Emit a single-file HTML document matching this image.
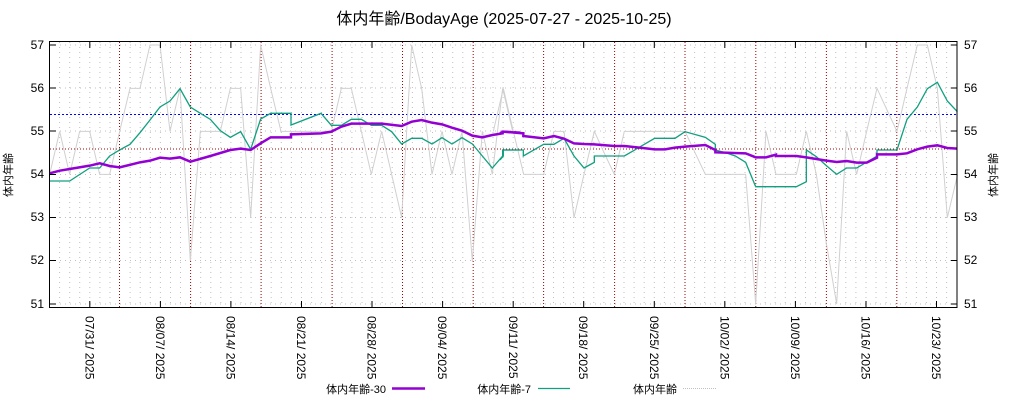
<!DOCTYPE html>
<html><head><meta charset="utf-8"><style>
html,body{margin:0;padding:0;background:#fff;}
svg{display:block;font-family:"Liberation Sans","Noto Sans CJK JP",sans-serif;}
</style></head><body>
<svg width="1024" height="400" viewBox="0 0 1024 400" xmlns="http://www.w3.org/2000/svg">
<rect width="1024" height="400" fill="#fff"/>
<text x="504" y="24" font-size="16" text-anchor="middle" fill="#000">体内年齢/BodayAge (2025-07-27 - 2025-10-25)</text>
<g stroke="#c0c0c0" stroke-width="1" stroke-dasharray="1,4">
<path d="M59.6,42V307M69.7,42V307M79.7,42V307M89.8,42V307M99.9,42V307M110,42V307M130.1,42V307M140.2,42V307M150.3,42V307M160.4,42V307M170.5,42V307M180.5,42V307M200.7,42V307M210.8,42V307M220.8,42V307M230.9,42V307M241,42V307M251.1,42V307M271.2,42V307M281.3,42V307M291.4,42V307M301.5,42V307M311.6,42V307M321.6,42V307M341.8,42V307M351.9,42V307M362,42V307M372,42V307M382.1,42V307M392.2,42V307M412.4,42V307M422.4,42V307M432.5,42V307M442.6,42V307M452.7,42V307M462.8,42V307M482.9,42V307M493,42V307M503.1,42V307M513.2,42V307M523.2,42V307M533.3,42V307M553.5,42V307M563.6,42V307M573.6,42V307M583.7,42V307M593.8,42V307M603.9,42V307M624,42V307M634.1,42V307M644.2,42V307M654.3,42V307M664.4,42V307M674.4,42V307M694.6,42V307M704.7,42V307M714.8,42V307M724.8,42V307M734.9,42V307M745,42V307M765.2,42V307M775.2,42V307M785.3,42V307M795.4,42V307M805.5,42V307M815.6,42V307M835.7,42V307M845.8,42V307M855.9,42V307M866,42V307M876,42V307M886.1,42V307M906.3,42V307M916.4,42V307M926.4,42V307M936.5,42V307M946.6,42V307"/>
<path d="M50,45H957M50,88H957M50,131H957M50,174.5H957M50,217.5H957M50,260.5H957M50,304H957"/>
</g>
<g stroke="#a00000" stroke-width="1" stroke-dasharray="1,2">
<path d="M119.5,42V307M190.6,42V307M261.1,42V307M332.1,42V307M402.5,42V307M473.2,42V307M543.6,42V307M614.6,42V307M685,42V307M755.8,42V307M826.4,42V307M896.8,42V307"/>
<path d="M50,149H957"/>
</g>
<path d="M50,114.5H957" stroke="#0000ff" stroke-width="1" stroke-dasharray="2,2"/>
<g transform="translate(40,30) scale(0.33333)" fill="none">
<polyline vector-effect="non-scaling-stroke" stroke="#d0d0d0" stroke-width="1" points="29,433 59,304 89,433 119,304 149,304 179,433 209,433 239,304 270,175 300,175 330,45 360,45 390,304 420,175 451,693 481,304 511,304 541,304 571,175 602,175 632,563 662,45 692,175 723,304 753,304 783,304 813,304 843,304 874,304 904,175 934,175 964,304 994,433 1025,304 1055,433 1085,563 1115,45 1145,175 1176,433 1206,304 1236,433 1266,304 1297,693 1327,304 1357,433 1388,175 1418,304"/>
<polyline vector-effect="non-scaling-stroke" stroke="#10a080" stroke-width="1.3" points="29,453 89,453 149,414 179,414 209,378 239,360 270,343 300,308 330,270 360,231 390,213 420,176 451,231 481,250 511,268 541,302 571,322 602,305 632,358 662,267 692,250 753,250 753,285 843,250 874,286 904,286 934,268 964,268 994,286 1025,286 1055,305 1085,342 1115,325 1145,325 1176,342 1206,323 1236,342 1266,323 1297,342 1327,378 1357,414 1388,378 1388,360 1440,360"/>
<polyline vector-effect="non-scaling-stroke" stroke="#9400d3" stroke-width="2.5" points="29,430 59,422 89,417 149,407 179,400 209,408 239,412 300,397 330,392 360,383 390,386 420,382 451,395 511,378 571,360 602,356 632,360 662,340 692,322 753,322 753,313 843,310 874,305 904,290 934,281 1025,281 1085,288 1115,275 1145,270 1176,278 1206,283 1236,293 1266,302 1297,317 1327,322 1357,315 1388,310 1388,305 1440,308"/>
</g>
<g transform="translate(500,30) scale(0.33333)" fill="none">
<polyline vector-effect="non-scaling-stroke" stroke="#d0d0d0" stroke-width="1" points="-20,304 10,175 40,304 71,433 101,433 131,433 162,304 192,304 222,563 252,433 283,304 313,370 343,433 373,304 555,304 586,370 616,433 737,433 767,822 798,304 828,433 889,433 919,304 949,433 979,640 1010,822 1040,304 1070,433 1100,304 1131,175 1161,240 1191,304 1221,175 1252,45 1282,45 1312,175 1342,563 1373,433"/>
<polyline vector-effect="non-scaling-stroke" stroke="#10a080" stroke-width="1.3" points="0,390 10,378 10,360 70,360 70,378 131,343 162,343 192,325 222,378 252,414 283,397 283,378 373,378 464,325 525,325 555,305 616,322 646,343 646,360 676,368 706,378 737,397 767,470 889,470 919,455 919,360 949,380 979,407 1010,433 1040,414 1070,414 1131,378 1131,360 1191,360 1221,268 1252,231 1282,176 1312,157 1342,213 1372,245"/>
<polyline vector-effect="non-scaling-stroke" stroke="#9400d3" stroke-width="2.5" points="0,310 10,305 70,310 70,318 131,325 162,318 192,326 222,340 252,342 283,343 343,348 373,348 464,358 495,358 525,353 555,350 616,345 646,360 646,367 737,370 767,382 798,382 828,374 828,378 889,378 919,382 979,392 1010,396 1040,393 1070,398 1100,398 1131,383 1131,373 1191,373 1221,370 1252,358 1282,350 1312,346 1342,354 1372,356"/>
</g>
<rect x="49.5" y="41.5" width="907.5" height="266" fill="none" stroke="#000" stroke-width="1"/>
<g stroke="#000" stroke-width="1">
<path d="M50,45h6M50,88h6M50,131h6M50,174.5h6M50,217.5h6M50,260.5h6M50,304h6M957,45h-6M957,88h-6M957,131h-6M957,174.5h-6M957,217.5h-6M957,260.5h-6M957,304h-6"/>
<path d="M89.8,307v-6M160.4,307v-6M230.9,307v-6M301.5,307v-6M372,307v-6M442.6,307v-6M513.2,307v-6M583.7,307v-6M654.3,307v-6M724.8,307v-6M795.4,307v-6M866,307v-6M936.5,307v-6M89.8,42v6M160.4,42v6M230.9,42v6M301.5,42v6M372,42v6M442.6,42v6M513.2,42v6M583.7,42v6M654.3,42v6M724.8,42v6M795.4,42v6M866,42v6M936.5,42v6"/>
</g>
<g font-size="12" fill="#000">
<g text-anchor="end"><text x="44" y="49">57</text><text x="44" y="92">56</text><text x="44" y="135">55</text><text x="44" y="178">54</text><text x="44" y="221">53</text><text x="44" y="264">52</text><text x="44" y="308">51</text></g>
<g text-anchor="start"><text x="964" y="49">57</text><text x="964" y="92">56</text><text x="964" y="135">55</text><text x="964" y="178">54</text><text x="964" y="221">53</text><text x="964" y="264">52</text><text x="964" y="308">51</text></g>
<text transform="translate(12,175) rotate(-90)" text-anchor="middle" font-size="11">体内年齢</text>
<text transform="translate(997,175) rotate(-90)" text-anchor="middle" font-size="11">体内年齢</text>
<g>
<text transform="translate(85.5,316) rotate(90)">07/31/ 2025</text>
<text transform="translate(156,316) rotate(90)">08/07/ 2025</text>
<text transform="translate(226.5,316) rotate(90)">08/14/ 2025</text>
<text transform="translate(297,316) rotate(90)">08/21/ 2025</text>
<text transform="translate(367.5,316) rotate(90)">08/28/ 2025</text>
<text transform="translate(438,316) rotate(90)">09/04/ 2025</text>
<text transform="translate(509,316) rotate(90)">09/11/ 2025</text>
<text transform="translate(579,316) rotate(90)">09/18/ 2025</text>
<text transform="translate(650,316) rotate(90)">09/25/ 2025</text>
<text transform="translate(720.5,316) rotate(90)">10/02/ 2025</text>
<text transform="translate(791,316) rotate(90)">10/09/ 2025</text>
<text transform="translate(861.5,316) rotate(90)">10/16/ 2025</text>
<text transform="translate(932,316) rotate(90)">10/23/ 2025</text>
</g>
<g font-size="11">
<text x="386" y="393" text-anchor="end">体内年齢-30</text>
<text x="531" y="393" text-anchor="end">体内年齢-7</text>
<text x="677" y="393" text-anchor="end">体内年齢</text>
</g>
</g>
<path d="M392,388.5H425" stroke="#9400d3" stroke-width="2.5"/>
<path d="M538,388.5H570" stroke="#10a080" stroke-width="1.3"/>
<path d="M683,388.5H716" stroke="#c0c0c0" stroke-width="1" stroke-dasharray="1,1"/>
</svg>
</body></html>
